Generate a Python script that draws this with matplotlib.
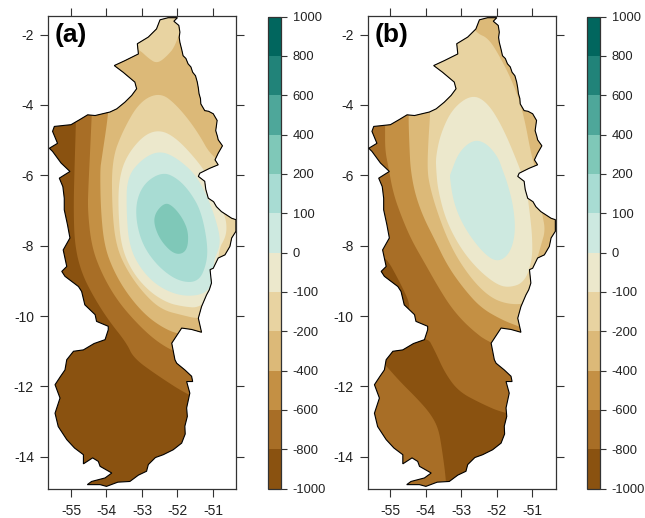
import matplotlib
matplotlib.use("Agg")
import matplotlib.pyplot as plt
from matplotlib.colors import ListedColormap, BoundaryNorm
from matplotlib.cm import ScalarMappable
from matplotlib.patches import Polygon

plt.rcParams['font.family'] = ['Liberation Sans', 'DejaVu Sans']
plt.rcParams['axes.unicode_minus'] = False

levels = [-1000, -800, -600, -400, -200, -100, 0, 100, 200, 400, 600, 800, 1000]
band_colors = ['#8a5210', '#a86e26', '#c49044', '#dcb978', '#e8d3a1', '#ece8cc',
               '#cde9e0', '#a8dcd3', '#7fc8b8', '#4ea79a', '#218379', '#01665e']
lon_ticks = [-55, -54, -53, -52, -51]
lat_ticks = [-2, -4, -6, -8, -10, -12, -14]

outline = [(-52.26,-1.52),(-52.0,-1.52),(-52.1,-1.62),(-51.96,-1.74),(-51.93,-1.93),(-51.95,-2.08),(-51.93,-2.22),
 (-51.88,-2.42),(-51.84,-2.6),(-51.76,-2.68),(-51.7,-2.83),(-51.62,-2.92),(-51.57,-3.07),(-51.49,-3.17),(-51.44,-3.35),
 (-51.41,-3.52),(-51.39,-3.68),(-51.35,-3.82),(-51.34,-3.97),(-51.23,-4.16),(-51.12,-4.18),(-50.99,-4.25),(-50.88,-4.44),
 (-50.92,-4.73),(-50.87,-4.9),(-50.85,-4.99),(-50.73,-5.16),(-50.85,-5.37),(-50.94,-5.56),(-50.85,-5.7),(-51.09,-5.8),
 (-51.37,-5.94),(-51.41,-6.03),(-51.23,-6.17),(-51.2,-6.4),(-51.13,-6.65),(-50.98,-6.75),(-50.9,-6.89),(-50.76,-7.03),
 (-50.47,-7.22),(-50.35,-7.26),(-50.35,-7.59),(-50.47,-7.78),(-50.52,-8.02),(-50.66,-8.26),(-50.85,-8.35),(-50.99,-8.64),
 (-51.08,-8.68),(-51.04,-9.06),(-51.1,-9.25),(-51.18,-9.4),(-51.32,-9.73),(-51.41,-10.06),(-51.32,-10.46),(-51.6,-10.38),
 (-51.88,-10.34),(-52.16,-10.77),(-52.07,-11.24),(-52.02,-11.34),(-51.79,-11.53),(-51.6,-11.71),(-51.57,-11.86),
 (-51.74,-11.86),(-51.65,-12.19),(-51.74,-12.61),(-51.72,-12.85),(-51.79,-13.13),(-51.78,-13.35),(-51.88,-13.61),
 (-52.12,-13.8),(-52.4,-13.94),(-52.62,-14.02),(-52.82,-14.22),(-52.87,-14.41),(-53.1,-14.52),(-53.34,-14.7),
 (-53.68,-14.72),(-54.0,-14.84),(-54.18,-14.79),(-54.54,-14.79),(-54.42,-14.7),(-54.04,-14.6),(-53.85,-14.46),
 (-54.18,-14.27),(-54.23,-14.13),(-54.39,-14.03),(-54.65,-14.2),(-54.65,-13.94),(-54.9,-13.75),(-55.12,-13.51),
 (-55.36,-13.14),(-55.45,-12.76),(-55.31,-12.33),(-55.45,-11.95),(-55.3,-11.72),(-55.17,-11.53),(-55.12,-11.24),
 (-54.93,-11.0),(-54.65,-10.96),(-54.35,-10.78),(-54.04,-10.67),(-53.95,-10.39),(-53.95,-10.29),(-54.28,-10.15),
 (-54.32,-9.96),(-54.61,-9.68),(-54.7,-9.3),(-54.79,-9.16),(-55.17,-8.87),(-55.26,-8.73),(-55.12,-8.59),(-55.22,-8.12),
 (-55.03,-7.78),(-55.1,-7.4),(-55.19,-6.98),(-55.19,-6.65),(-55.23,-6.32),(-55.33,-6.08),(-55.03,-5.89),(-55.28,-5.65),
 (-55.52,-5.32),(-55.61,-5.23),(-55.38,-5.09),(-55.52,-4.75),(-55.47,-4.61),(-55.0,-4.56),(-54.76,-4.42),(-54.53,-4.28),
 (-54.32,-4.3),(-54.11,-4.25),(-53.9,-4.2),(-53.71,-4.11),(-53.48,-3.92),(-53.29,-3.73),(-53.15,-3.54),(-53.2,-3.35),
 (-53.53,-3.07),(-53.78,-2.88),(-53.48,-2.74),(-53.1,-2.55),(-53.13,-2.26),(-52.82,-2.07),(-52.59,-1.84),(-52.49,-1.58)]

# Panel (a): area above each contour level
a_m800 = [(-54.86,-3.9),(-54.86,-4.47),(-54.90,-5.75),(-54.93,-7.0),(-54.89,-8.02),(-54.70,-8.78),(-54.37,-9.44),
          (-53.95,-10.11),(-53.43,-10.77),(-53.24,-11.19),(-52.59,-11.67),(-51.65,-12.28),(-50,-13),(-50,-1),(-54.86,-1)]
a_m600 = [(-54.40,-3.9),(-54.42,-4.38),(-54.46,-5.28),(-54.51,-6.32),(-54.53,-7.0),(-54.42,-8.02),(-54.14,-8.78),
          (-53.71,-9.54),(-53.15,-10.2),(-52.59,-10.72),(-52.02,-11.05),(-50,-11.9),(-50,-1),(-54.4,-1)]
a_m400 = [(-53.95,-3.9),(-53.95,-4.28),(-54.14,-5.56),(-54.18,-5.85),(-54.16,-7.0),(-54.06,-8.0),(-53.81,-8.69),
          (-53.43,-9.35),(-52.92,-9.96),(-52.4,-10.34),(-51.93,-10.53),(-50,-10.9),(-50,-1),(-53.95,-1)]
a_m200 = [(-52.49,-3.64),(-53.06,-3.9),(-53.53,-4.71),(-53.85,-5.56),(-53.84,-7.0),(-53.73,-8.0),(-53.43,-8.69),
          (-52.96,-9.35),(-52.45,-9.82),(-51.84,-9.98),(-51.41,-10.08),(-50,-10),(-50,-6),(-50.99,-5.56),
          (-51.46,-4.71),(-52.02,-4.0)]
a_m200_tip = [(-53.06,-2.44),(-52.82,-2.67),(-52.59,-2.82),(-52.35,-2.67),(-52.02,-2.29),(-51.7,-1),(-53.4,-1),(-53.4,-2.3)]
a_m100 = [(-52.49,-4.7),(-52.96,-4.86),(-53.45,-5.47),(-53.65,-6.13),(-53.67,-7.0),(-53.59,-8.0),(-53.29,-8.72),
          (-52.82,-9.28),(-52.3,-9.62),(-51.84,-9.73),(-51.37,-9.77),(-50.9,-9.3),(-50.85,-8.12),(-50.63,-7.74),
          (-50.61,-7.36),(-50.71,-7.03),(-50.9,-6.6),(-51.13,-6.03),(-51.46,-5.56),(-52.02,-4.95)]
a_0 = [(-52.49,-5.3),(-52.96,-5.5),(-53.42,-6.03),(-53.44,-7.0),(-53.36,-8.03),(-53.0,-8.72),(-52.49,-9.2),
       (-51.84,-9.45),(-51.18,-9.37),(-50.95,-8.9),(-50.99,-8.45),(-50.82,-8.07),(-50.8,-7.74),(-50.92,-7.26),
       (-51.1,-6.74),(-51.46,-6.0),(-52.02,-5.5)]
a_100 = [(-52.4,-5.9),(-52.9,-6.18),(-53.16,-6.7),(-53.16,-7.36),(-52.95,-8.05),(-52.49,-8.65),(-51.93,-9.03),
         (-51.4,-9.03),(-51.17,-8.5),(-51.15,-7.93),(-51.33,-7.03),(-51.62,-6.5),(-51.98,-6.1)]
a_200 = [(-52.35,-6.77),(-52.62,-7.05),(-52.67,-7.38),(-52.47,-7.87),(-52.07,-8.27),(-51.73,-8.17),(-51.68,-7.64),
         (-51.85,-7.22),(-52.12,-6.88)]

# Panel (b)
b_low_west = [(-55.16,-8.26),(-54.74,-9.02),(-54.41,-9.73),(-54.6,-9.95),(-55.6,-9.7),(-55.6,-8.26)]
b_low_south = [(-53.99,-10.53),(-53.74,-11.0),(-53.46,-11.62),(-53.08,-12.14),(-52.47,-12.47),(-51.82,-12.76),
               (-50.5,-13),(-50.5,-15.5),(-53.41,-15.3),(-53.43,-14.65),(-53.55,-13.75),(-53.65,-13.18),
               (-53.88,-12.76),(-54.26,-12.33),(-54.73,-11.86),(-55.15,-11.38),(-55.6,-10.9)]
b_m600 = [(-55.15,-4.0),(-55.15,-4.66),(-55.15,-5.28),(-55.06,-5.75),(-54.92,-6.51),(-54.69,-7.17),(-54.41,-7.83),
          (-54.03,-8.5),(-53.66,-9.16),(-53.28,-9.77),(-52.81,-10.3),(-52.15,-10.82),(-50,-11.5),(-50,-1),(-55.15,-1)]
b_m400 = [(-54.48,-3.9),(-54.49,-4.42),(-54.46,-5.28),(-54.43,-5.84),(-54.31,-6.51),(-54.08,-7.17),(-53.75,-7.83),
          (-53.38,-8.59),(-52.91,-9.25),(-52.44,-9.77),(-51.87,-10.1),(-51.4,-10.29),(-50,-10.8),(-50,-1),(-54.48,-1)]
b_m200 = [(-53.88,-3.9),(-53.88,-4.28),(-53.93,-5.0),(-53.96,-5.84),(-53.89,-6.31),(-53.7,-6.98),(-53.42,-7.74),
          (-53.09,-8.4),(-52.62,-9.06),(-52.15,-9.49),(-51.69,-9.66),(-51.2,-9.66),(-51.0,-9.5),(-50.9,-8.5),
          (-50.75,-7.97),(-50.63,-7.55),(-50.73,-7.07),(-50.85,-6.0),(-51.02,-5.47),(-51.25,-4.23),(-51.54,-3.38),
          (-51.91,-2.63),(-52.24,-2.1),(-52.57,-1.96),(-52.8,-1.6),(-53.5,-1.7),(-54.2,-3.0)]
b_m100 = [(-52.71,-3.7),(-53.25,-4.1),(-53.58,-4.8),(-53.72,-5.47),(-53.71,-5.84),(-53.66,-6.41),(-53.44,-7.26),
          (-53.05,-8.03),(-52.58,-8.63),(-52.06,-9.07),(-51.69,-9.2),(-51.22,-9.05),(-51.0,-8.4),(-51.0,-7.74),
          (-51.07,-7.07),(-51.17,-6.32),(-51.42,-5.62),(-51.84,-4.62),(-52.27,-3.92)]
b_0 = [(-52.66,-4.98),(-53.07,-5.33),(-53.3,-5.94),(-53.33,-6.03),(-53.22,-6.78),(-52.93,-7.47),(-52.44,-8.15),
       (-52.01,-8.48),(-51.64,-8.25),(-51.47,-7.64),(-51.53,-6.88),(-51.7,-6.22),(-51.84,-5.84),(-51.97,-5.47),(-52.3,-5.08)]

W, H = 645, 518


def smooth(points, n=3):
    pts = list(points)
    for _ in range(n):
        out = []
        for i, p in enumerate(pts):
            q = pts[(i + 1) % len(pts)]
            out.append((0.75 * p[0] + 0.25 * q[0], 0.75 * p[1] + 0.25 * q[1]))
            out.append((0.25 * p[0] + 0.75 * q[0], 0.25 * p[1] + 0.75 * q[1]))
        pts = out
    return pts


def px_axes(x0, x1, y0, y1):
    return fig.add_axes([x0 / W, 1 - y1 / H, (x1 - x0) / W, (y1 - y0) / H])


def draw_map(box, base, regions, label):
    ax = px_axes(*box)
    ax.set_xlim(-55.64, -50.34)
    ax.set_ylim(-14.9, -1.48)
    clip = Polygon(outline, closed=True, transform=ax.transData, facecolor='none', edgecolor='none')
    ax.add_patch(clip)
    bg = Polygon(outline, closed=True, facecolor=band_colors[base], edgecolor='none', zorder=1)
    ax.add_patch(bg)
    for z, (pts, band) in enumerate(regions):
        patch = Polygon(smooth(pts), closed=True, facecolor=band_colors[band], edgecolor='none', zorder=2 + z * 0.01)
        ax.add_patch(patch)
        patch.set_clip_path(clip)
    ax.add_patch(Polygon(outline, closed=True, facecolor='none', edgecolor='black', linewidth=0.8, zorder=3))
    ax.set_xticks(lon_ticks, [str(v) for v in lon_ticks])
    ax.set_yticks(lat_ticks, [str(v) for v in lat_ticks])
    ax.tick_params(top=True, right=True, length=5.8, width=0.8, color='#333333', labelsize=10,
                   labelcolor='#222222')
    ax.tick_params(axis='x', pad=5.5)
    ax.tick_params(axis='y', pad=4.5)
    for s in ax.spines.values():
        s.set_color('#333333')
        s.set_linewidth(0.9)
    ax.text(0.035, 0.96, label, transform=ax.transAxes, fontsize=19, fontweight='bold', color='black',
            ha='left', va='center', zorder=5)
    return ax


def draw_bar(box):
    cax = px_axes(*box)
    sm = ScalarMappable(norm=BoundaryNorm(levels, 12), cmap=ListedColormap(band_colors))
    cb = fig.colorbar(sm, cax=cax, spacing='uniform', ticks=levels, drawedges=False)
    cb.set_ticklabels([str(v) for v in levels])
    cb.ax.minorticks_off()
    cb.ax.tick_params(length=4.5, width=0.8, color='#333333', labelsize=9.3, pad=4, labelcolor='#222222')
    cb.outline.set_edgecolor('#333333')
    cb.outline.set_linewidth(0.9)


fig = plt.figure(figsize=(W / 100, H / 100), dpi=100, facecolor='white')

regions_a = [(a_m800, 1), (a_m600, 2), (a_m400, 3), (a_m200, 4), (a_m200_tip, 4), (a_m100, 5), (a_0, 6), (a_100, 7), (a_200, 8)]
regions_b = [(b_low_west, 0), (b_low_south, 0), (b_m600, 2), (b_m400, 3), (b_m200, 4), (b_m100, 5), (b_0, 6)]

draw_map((48.3, 236.3, 16.3, 488.5), 0, regions_a, '(a)')
draw_bar((267.7, 280.7, 16.5, 488.5))
draw_map((367.7, 555.7, 16.3, 488.5), 1, regions_b, '(b)')
draw_bar((587.3, 600.0, 16.5, 488.5))

fig.savefig('out.png', dpi=100)
